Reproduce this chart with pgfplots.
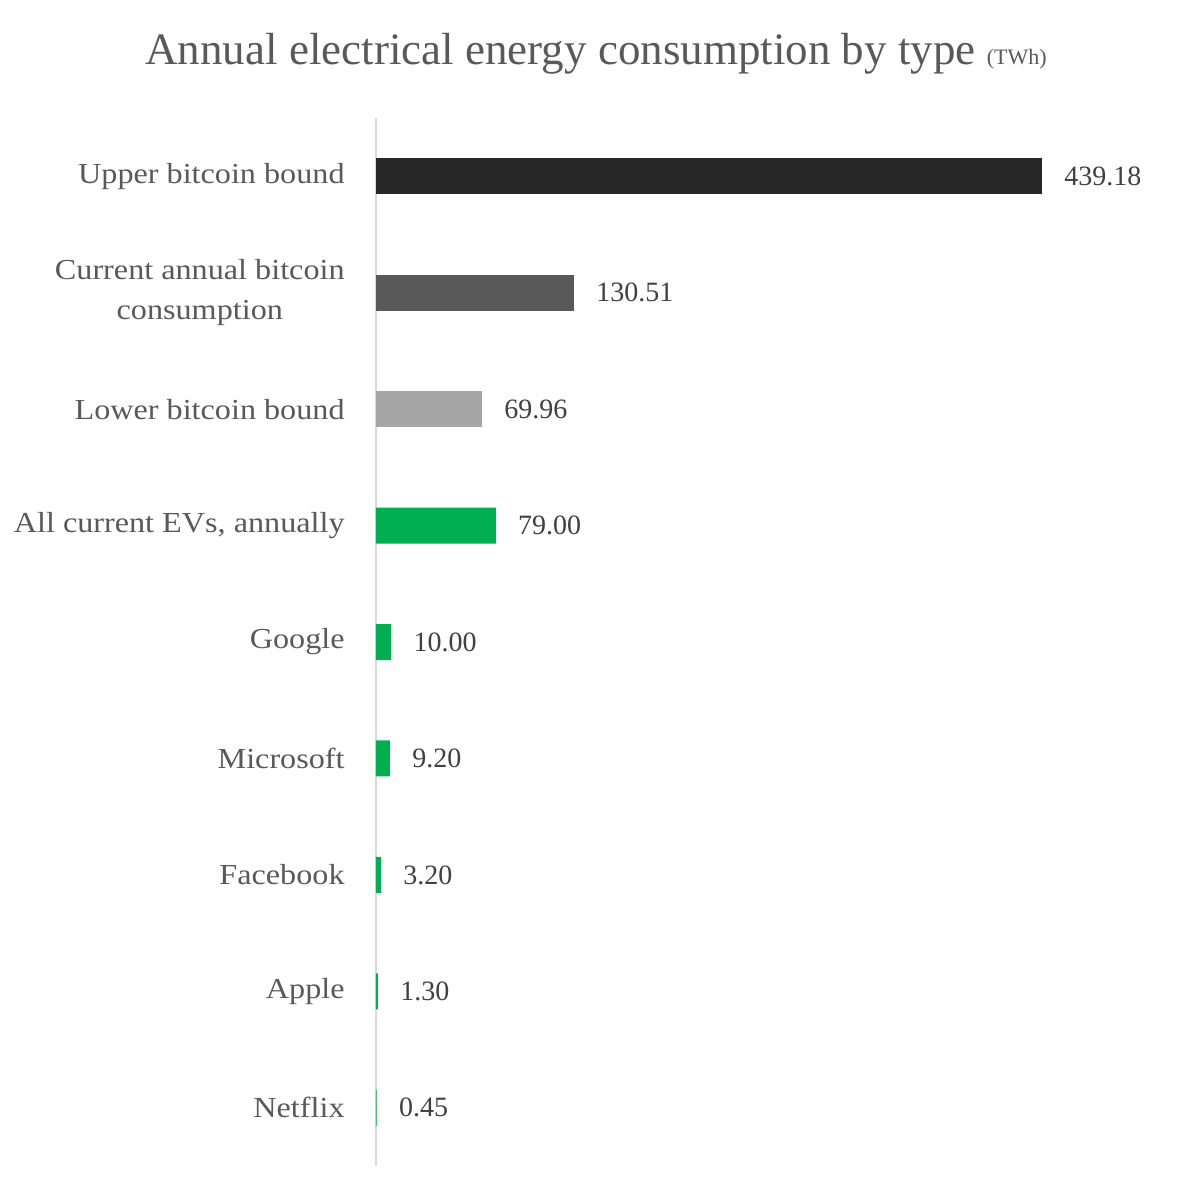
\documentclass[border=0pt]{standalone}
\usepackage{fontspec}
\setmainfont{Liberation Serif}
\newfontfamily\labfont{Liberation Serif}[FakeStretch=1.11]
\usepackage{pgfplots}
\pgfplotsset{compat=1.18}

\definecolor{upperc}{HTML}{262626}
\definecolor{currc}{HTML}{595959}
\definecolor{lowerc}{HTML}{A6A6A6}
\definecolor{greenc}{HTML}{00B050}
\definecolor{axisc}{HTML}{D9D9D9}
\definecolor{labelc}{HTML}{595959}
\definecolor{valc}{HTML}{404040}

\begin{document}
\begin{tikzpicture}
\useasboundingbox (0,0) rectangle (593pt,600pt);
\node[anchor=base, text=labelc, font=\fontsize{22.5}{26}\selectfont]
  at (298pt,567.5pt) {Annual electrical energy consumption by type {\fontsize{11}{12}\selectfont (TWh)}};
\begin{axis}[
    at={(188pt,17pt)}, anchor=south west,
    scale only axis,
    width=405pt, height=524pt,
    xbar, bar width=18pt, bar shift=0pt,
    xmin=0, xmax=534.2,
    ymin=-0.5, ymax=8.5,
    axis x line=none,
    axis y line*=left,
    y axis line style={draw=axisc, line width=1pt},
    xtick=\empty,
    ytick={0,1,2,3,4,5,6,7,8},
    yticklabels={Netflix,Apple,Facebook,Microsoft,Google,{All current EVs, annually},Lower bitcoin bound,{Current annual bitcoin\\consumption},Upper bitcoin bound},
    major tick length=0pt,
    yticklabel style={align=center, anchor=east, inner sep=0pt, xshift=-15.5pt,
      text=labelc, font=\labfont\fontsize{14.5}{20}\selectfont},
    nodes near coords,
    every node near coord/.append style={anchor=west, inner sep=0pt, xshift=11pt,
      text=valc, font=\fontsize{14}{16}\selectfont},
    /pgf/number format/.cd, fixed, fixed zerofill, precision=2, assume math mode=true,
]
\addplot[draw=none, fill=upperc] coordinates {(439.18,8)};
\addplot[draw=none, fill=currc] coordinates {(130.51,7)};
\addplot[draw=none, fill=lowerc] coordinates {(69.96,6)};
\addplot[draw=none, fill=greenc] coordinates {(79.00,5) (10.00,4) (9.20,3) (3.20,2) (1.30,1) (0.45,0)};
\end{axis}
\end{tikzpicture}
\end{document}
